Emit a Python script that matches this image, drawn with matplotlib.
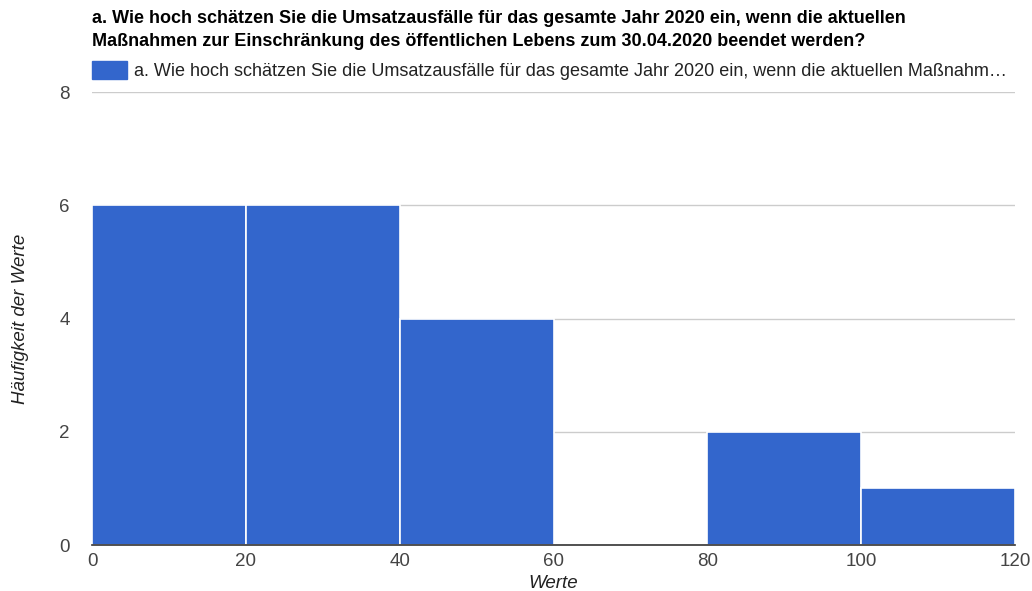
import numpy as np
import matplotlib
matplotlib.use("Agg")
import matplotlib.pyplot as plt

plt.rcParams['font.family'] = ['Liberation Sans', 'DejaVu Sans']

bin_edges = [0, 20, 40, 60, 80, 100, 120]
counts = [6, 6, 4, 0, 2, 1]
title = ("a. Wie hoch schätzen Sie die Umsatzausfälle für das gesamte Jahr 2020 ein, wenn die aktuellen\n"
         "Maßnahmen zur Einschränkung des öffentlichen Lebens zum 30.04.2020 beendet werden?")
legend_label = "a. Wie hoch schätzen Sie die Umsatzausfälle für das gesamte Jahr 2020 ein, wenn die aktuellen Maßnahm…"
xticks = [0, 20, 40, 60, 80, 100, 120]
yticks = [0, 2, 4, 6, 8]

blue = "#3366cc"
grey = "#444444"

fig = plt.figure(figsize=(10.32, 5.91), dpi=100)
ax = fig.add_axes([92 / 1032, 1 - 545 / 591, 923 / 1032, 453 / 591])

lefts = np.array(bin_edges[:-1])
widths = np.diff(bin_edges)
ax.bar(lefts, counts, width=widths, align='edge', color=blue,
       edgecolor='white', linewidth=1.2, zorder=2)

ax.set_xlim(0, 120)
ax.set_ylim(0, 8)
ax.set_xticks(xticks)
ax.set_yticks(yticks)
ax.grid(axis='y', color='#cccccc', linewidth=1, zorder=0)
for s in ['top', 'right', 'left']:
    ax.spines[s].set_visible(False)
ax.spines['bottom'].set_color('#333333')
ax.spines['bottom'].set_linewidth(1.2)
ax.spines['bottom'].set_zorder(3)
ax.tick_params(axis='both', length=0, labelsize=13.5, labelcolor=grey)
ax.tick_params(axis='y', pad=16)
ax.tick_params(axis='x', pad=6)

ax.set_xlabel("Werte", fontsize=13.5, style='italic', color='#222222', labelpad=3)
ax.set_ylabel("Häufigkeit der Werte", fontsize=13.5, style='italic', color='#222222', labelpad=22)

fig.text(92 / 1032, 1 - 10 / 591, title, fontsize=13, fontweight='bold',
         va='top', ha='left', color='black', linespacing=1.45)

fig.patches.append(plt.Rectangle((92 / 1032, 1 - 79 / 591), 35 / 1032, 18 / 591,
                                 transform=fig.transFigure, color=blue))
fig.text(134 / 1032, 1 - 71 / 591, legend_label, fontsize=13, va='center',
         ha='left', color='#222222')

fig.savefig("out.png", dpi=100)
